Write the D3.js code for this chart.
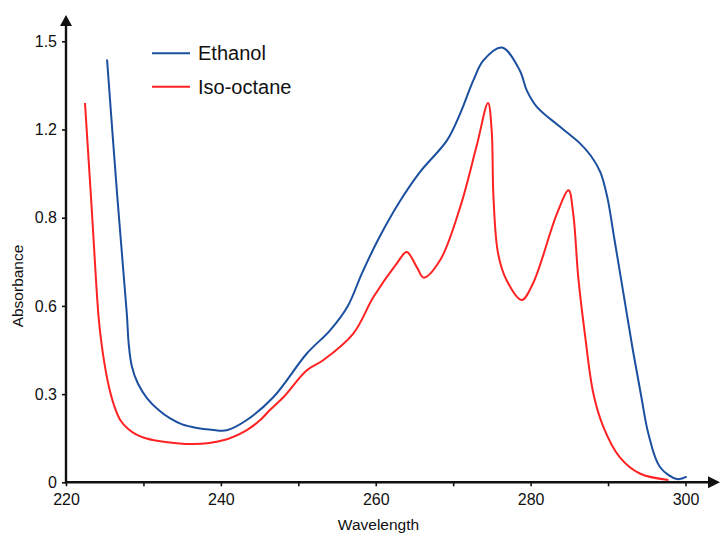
<!DOCTYPE html>
<html>
<head>
<meta charset="utf-8">
<script src="https://cdn.jsdelivr.net/npm/d3@7"></script>
<style>
  body { margin: 0; background: #fff; }
  text { font-family: "Liberation Sans", Arial, sans-serif; fill: #111; }
</style>
</head>
<body>
<svg id="chart" width="720" height="534"></svg>
<script>
// wavelength (nm) / absorbance
const ethanolWl = [225.3, 226.6, 227.85, 228.1, 228.5, 229.3, 230.5, 232, 233.4, 235, 236.9, 238.8, 240.75, 243.3, 246.8, 251.1, 254.1, 256.4, 258.2, 260.3, 263.1, 265.7, 269.2, 270.9, 272.6, 273.9, 276.3, 278.6, 279.5, 280.8, 283.8, 286.4, 287.8, 289.0, 289.9, 290.8, 292.0, 293.2, 294.3, 295.2, 296.7, 298.9, 300.15]
const ethanolAbs = [1.438, 0.98, 0.575, 0.47, 0.395, 0.335, 0.285, 0.245, 0.218, 0.197, 0.185, 0.179, 0.177, 0.211, 0.29, 0.438, 0.517, 0.6, 0.71, 0.825, 0.955, 1.055, 1.163, 1.254, 1.367, 1.435, 1.479, 1.401, 1.333, 1.277, 1.209, 1.152, 1.11, 1.055, 0.97, 0.83, 0.64, 0.45, 0.29, 0.166, 0.052, 0.011, 0.019]
const isoWl = [222.45, 223.3, 224.17, 224.5, 224.9, 225.5, 226.2, 227.0, 228.0, 229.1, 230.4, 232.6, 236.4, 240.3, 243.3, 245.05, 246.3, 248.1, 251.1, 253.2, 257.1, 259.7, 262.7, 264.0, 265.3, 266.2, 268.3, 270.9, 273.0, 274.5, 274.97, 275.2, 275.8, 276.9, 278.85, 280.3, 283.4, 284.9, 285.5, 286.15, 287.0, 288.1, 289.4, 291.5, 294.1, 297.8]
const isoAbs = [1.29, 0.94, 0.574, 0.49, 0.415, 0.33, 0.262, 0.212, 0.182, 0.162, 0.149, 0.138, 0.13, 0.143, 0.177, 0.211, 0.245, 0.29, 0.381, 0.415, 0.506, 0.63, 0.744, 0.783, 0.732, 0.696, 0.755, 0.936, 1.141, 1.29, 1.197, 0.97, 0.778, 0.687, 0.62, 0.676, 0.914, 0.993, 0.914, 0.698, 0.506, 0.302, 0.188, 0.086, 0.03, 0.008]

const xTicks = [220, 230, 240, 250, 260, 270, 280, 290, 300]
const xTickLabels = ["220", "", "240", "", "260", "", "280", "", "300"]
const yTicks = [0, 0.3, 0.6, 0.9, 1.2, 1.5]
const yTickLabels = ["0", "0.3", "0.6", "0.8", "1.2", "1.5"]

const seriesNames = ["Ethanol", "Iso-octane"]
const seriesColors = ["#1b4f9f", "#ff2222"]

const svg = d3.select("#chart")

const x = d3.scaleLinear().domain([220, 300]).range([66, 685.5])
const y = d3.scaleLinear().domain([0, 1.5]).range([482.3, 41.3])

// x axis
const xAxis = svg.append("g")
  .attr("transform", `translate(0,${y(0)})`)
  .call(d3.axisBottom(x).tickValues(xTicks).tickSize(4).tickPadding(7)
    .tickFormat((d, i) => xTickLabels[i]))
xAxis.select(".domain").remove()
xAxis.selectAll(".tick line").attr("stroke", "#111").attr("stroke-width", 1.6)
xAxis.selectAll(".tick text").attr("font-size", 16)

// y axis
const yAxis = svg.append("g")
  .attr("transform", `translate(${x(220)},0)`)
  .call(d3.axisLeft(y).tickValues(yTicks).tickSize(4).tickPadding(5)
    .tickFormat((d, i) => yTickLabels[i]))
yAxis.select(".domain").remove()
yAxis.selectAll(".tick line").attr("stroke", "#111").attr("stroke-width", 1.6)
yAxis.selectAll(".tick text").attr("font-size", 16)

// axis lines with arrow heads
svg.append("line")
  .attr("x1", x(220)).attr("y1", y(0) + 1)
  .attr("x2", x(220)).attr("y2", 24)
  .attr("stroke", "#111").attr("stroke-width", 2.4)
svg.append("path")
  .attr("d", `M${x(220)},15 L${x(220) - 6},26 L${x(220) + 6},26 Z`)
  .attr("fill", "#111")
svg.append("line")
  .attr("x1", x(220) - 1).attr("y1", y(0))
  .attr("x2", 710).attr("y2", y(0))
  .attr("stroke", "#111").attr("stroke-width", 2.4)
svg.append("path")
  .attr("d", `M720,${y(0)} L708,${y(0) - 6} L708,${y(0) + 6} Z`)
  .attr("fill", "#111")

// axis titles
svg.append("text")
  .attr("x", 378.5).attr("y", 530)
  .attr("text-anchor", "middle")
  .attr("font-size", 15.5)
  .text("Wavelength")
svg.append("text")
  .attr("transform", "translate(23,286) rotate(-90)")
  .attr("text-anchor", "middle")
  .attr("font-size", 15.5)
  .text("Absorbance")

// curves
const line = d3.line()
  .x(d => x(d[0]))
  .y(d => y(d[1]))
  .curve(d3.curveCatmullRom.alpha(0.5))

const series = [
  d3.zip(ethanolWl, ethanolAbs),
  d3.zip(isoWl, isoAbs)
]
svg.selectAll(".spectrum")
  .data(series)
  .join("path")
  .attr("class", "spectrum")
  .attr("fill", "none")
  .attr("stroke", (d, i) => seriesColors[i])
  .attr("stroke-width", 2)
  .attr("d", line)

// legend
const legend = svg.append("g")
seriesNames.forEach((name, i) => {
  const ly = 53.3 + i * 33.4
  legend.append("line")
    .attr("x1", 152).attr("x2", 190)
    .attr("y1", ly).attr("y2", ly)
    .attr("stroke", seriesColors[i]).attr("stroke-width", 2)
  legend.append("text")
    .attr("x", 198).attr("y", ly + 7)
    .attr("font-size", 20)
    .text(name)
})
</script>
</body>
</html>
